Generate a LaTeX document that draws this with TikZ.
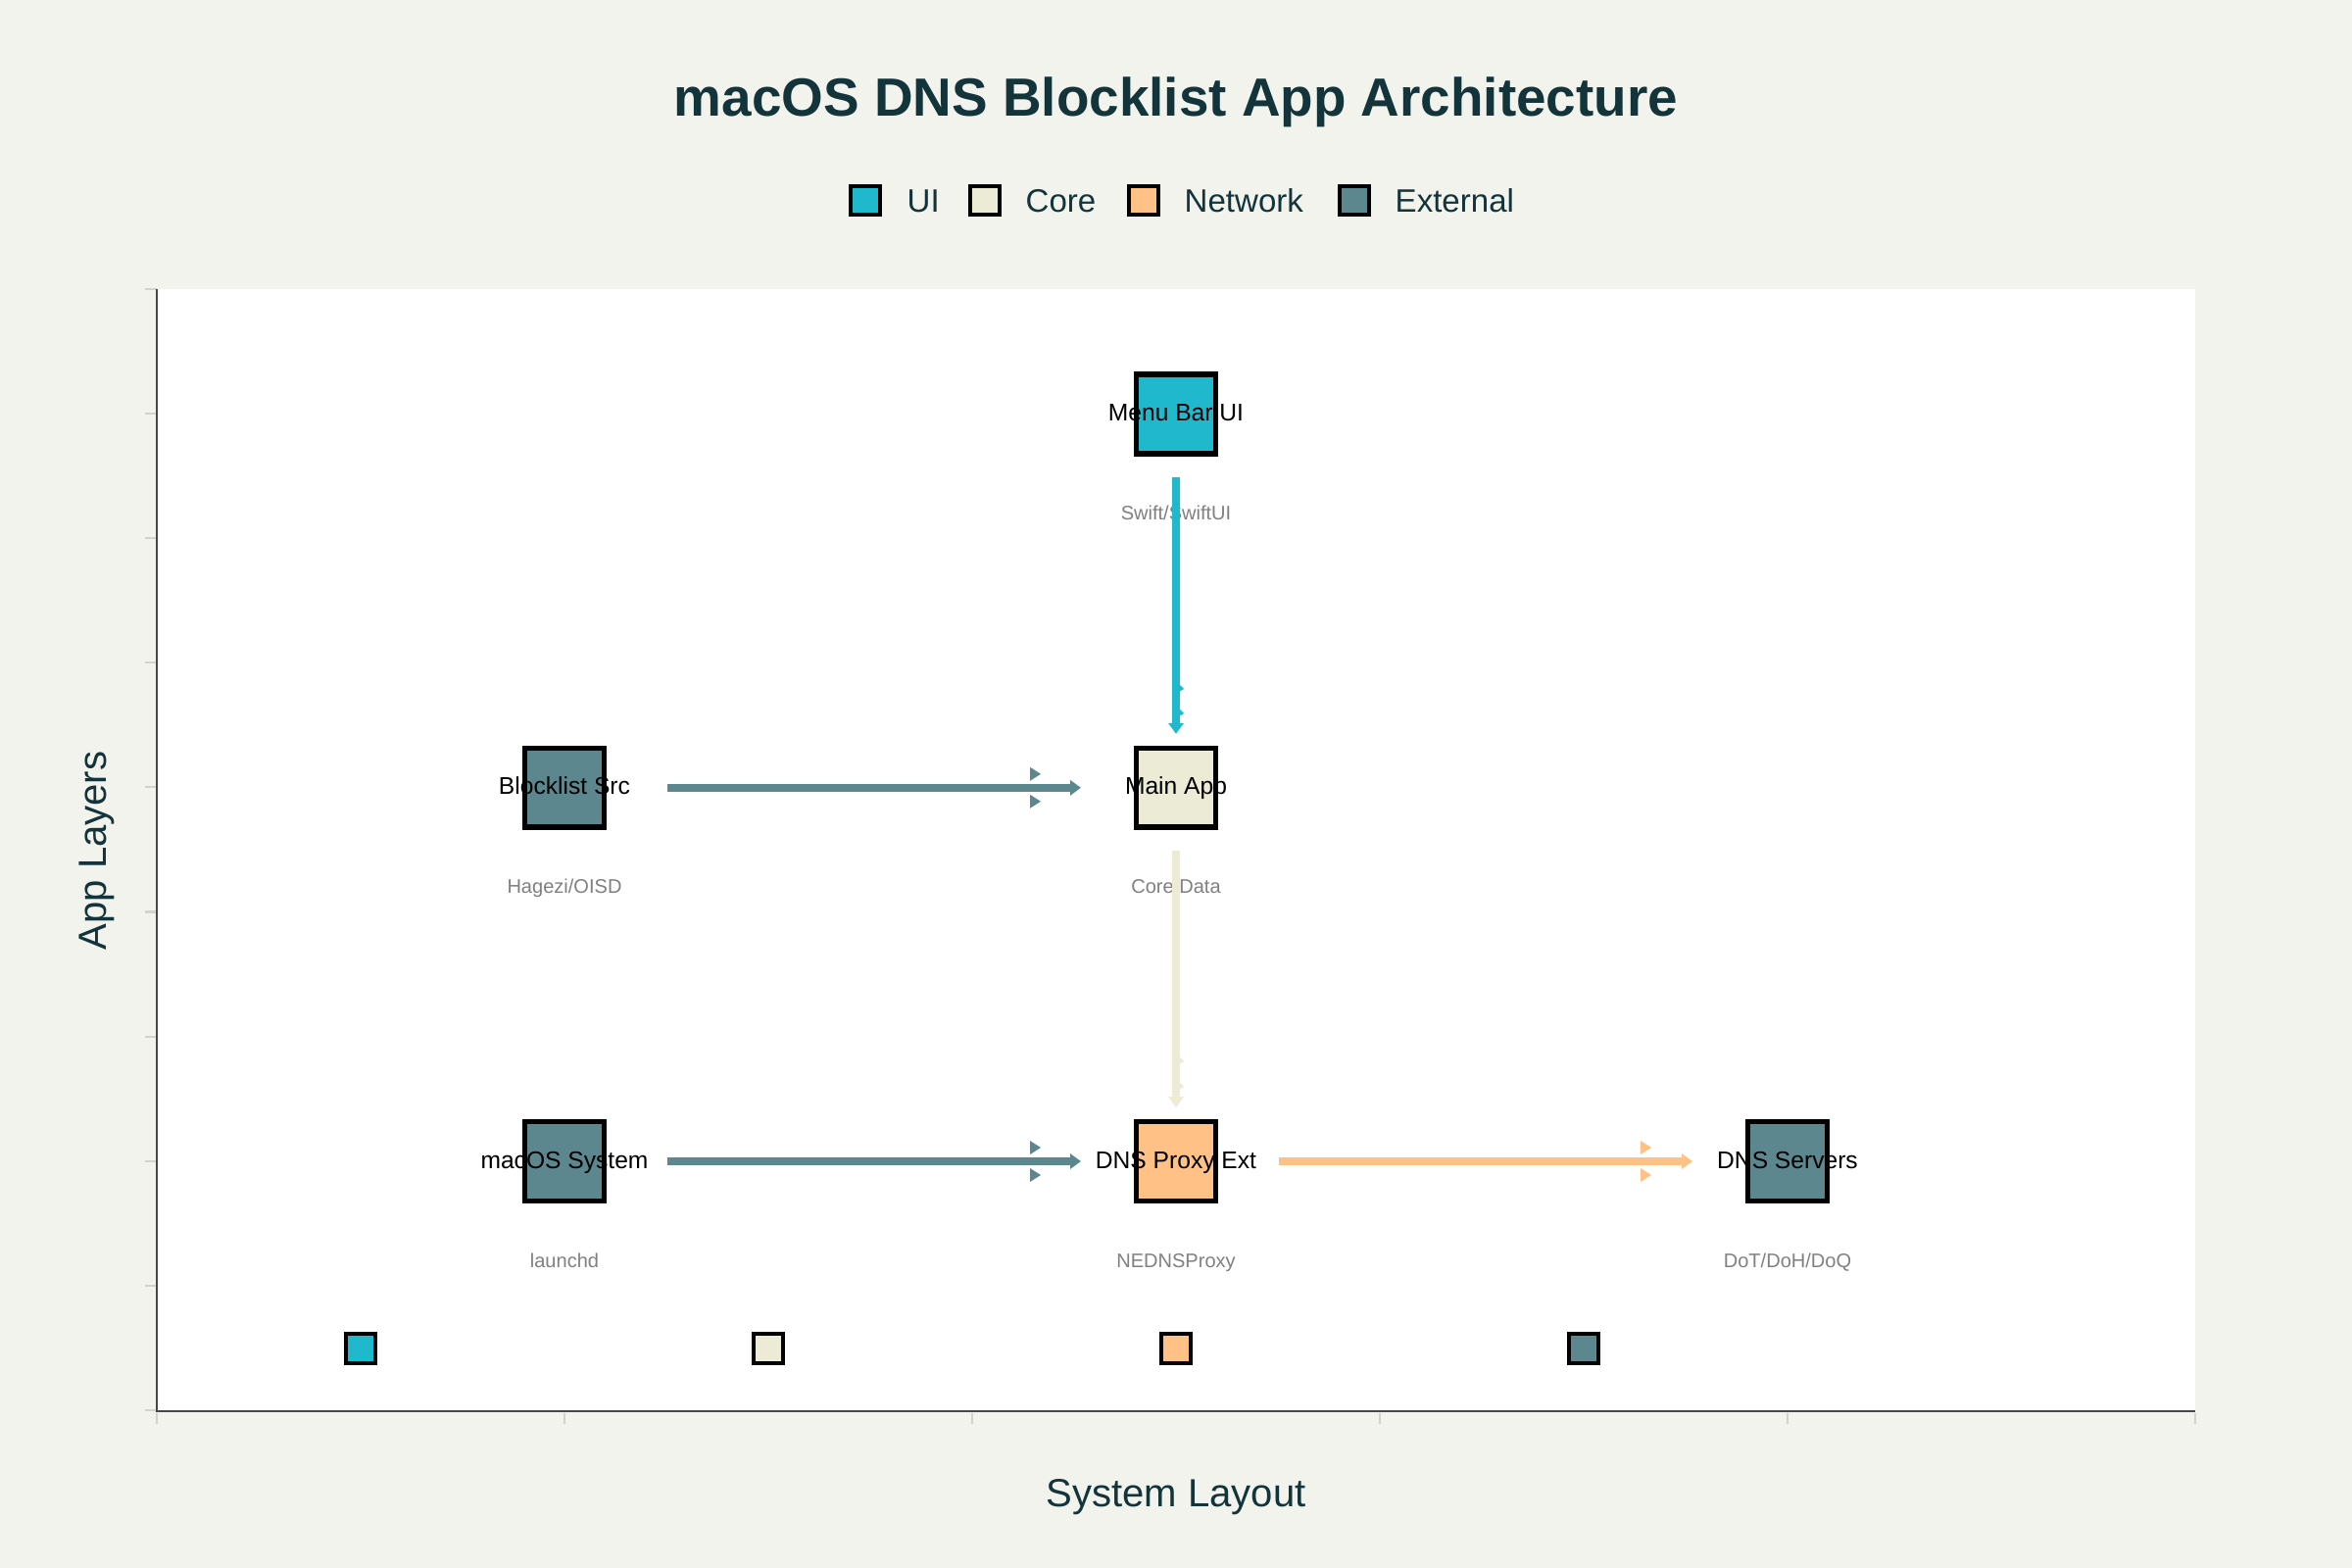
\documentclass[tikz,border=0pt]{standalone}
\usepackage{fontspec}
\setmainfont{Liberation Sans}
\usetikzlibrary{arrows.meta}
\definecolor{ui}{HTML}{1FB8CD}
\definecolor{core}{HTML}{ECEBD5}
\definecolor{net}{HTML}{FFC185}
\definecolor{ext}{HTML}{5D878F}
\definecolor{paper}{HTML}{F3F3EE}
\definecolor{ink}{HTML}{13343B}
\definecolor{subgrey}{HTML}{808080}
\definecolor{tickgrey}{HTML}{D2D2CE}

\begin{document}
\begin{tikzpicture}[x=0.01cm, y=-0.01cm,
	box/.style={rectangle, draw=black, line width=1.56pt, minimum size=0.805cm, inner sep=0pt},
	keybox/.style={rectangle, draw=black, line width=1.1pt, minimum size=0.295cm, inner sep=0pt},
	boxtext/.style={anchor=base, text=black, font=\fontsize{7}{8}\selectfont, inner sep=0pt},
	subtext/.style={anchor=base, text=subgrey, font=\fontsize{5.7}{7}\selectfont, inner sep=0pt},
	keytext/.style={anchor=base west, text=ink, font=\fontsize{9.4}{11}\selectfont, inner sep=0pt},
	flow/.style={line width=2.1pt, -{Triangle[length=3.1pt, width=4.3pt]}},
	hflow/.style={flow, shorten <=0.62cm, shorten >=0.54cm},
	vflow/.style={flow, shorten <=0.215cm, shorten >=0.12cm}]
	\fill[paper] (0,0) rectangle (2400,1600);
	\useasboundingbox (0,0) rectangle (2400,1600);
	\fill[white] (160,295) rectangle (2240,1440);
	\foreach \k in {0,...,9}
		\draw[tickgrey, line width=0.6pt] (148,295+127.1*\k) -- (160,295+127.1*\k);
	\foreach \k in {0,...,5}
		\draw[tickgrey, line width=0.6pt] (160+416*\k,1442) -- (160+416*\k,1453);
	\draw[black!72, line width=0.45pt] (160,295) -- (160,1440) -- (2240,1440);
	
	\node[anchor=base, text=ink, font=\bfseries\fontsize{15.6}{18}\selectfont, inner sep=0pt] (title) at (1200,119) {macOS DNS Blocklist App Architecture};
	\node[anchor=base, text=ink, font=\fontsize{11.4}{13}\selectfont, inner sep=0pt] (xlabel) at (1200,1537) {System Layout};
	\node[anchor=base, rotate=90, text=ink, font=\fontsize{11.4}{13}\selectfont, inner sep=0pt] (ylabel) at (108,868) {App Layers};
	
	\node[keybox, fill=ui] (k1) at (883,204.5) {};
	\node[keytext] (k1t) at (925,216) {UI};
	\node[keybox, fill=core] (k2) at (1005,204.5) {};
	\node[keytext] (k2t) at (1046,216) {Core};
	\node[keybox, fill=net] (k3) at (1167,204.5) {};
	\node[keytext] (k3t) at (1208,216) {Network};
	\node[keybox, fill=ext] (k4) at (1382,204.5) {};
	\node[keytext] (k4t) at (1423,216) {External};
	
	\node[box, fill=ui] (menu) at (1200,422.5) {};
	\node[box, fill=core] (main) at (1200,803.8) {};
	\node[box, fill=ext] (blk) at (576,803.8) {};
	\node[box, fill=ext] (sys) at (576,1185) {};
	\node[box, fill=net] (proxy) at (1200,1185) {};
	\node[box, fill=ext] (dns) at (1824,1185) {};
	
	\node[boxtext] (menu-t) at (1200,429.5) {Menu Bar UI};
	\node[boxtext] (main-t) at (1200,810.8) {Main App};
	\node[boxtext] (blk-t) at (576,810.8) {Blocklist Src};
	\node[boxtext] (sys-t) at (576,1192) {macOS System};
	\node[boxtext] (proxy-t) at (1200,1192) {DNS Proxy Ext};
	\node[boxtext] (dns-t) at (1824,1192) {DNS Servers};
	
	\node[subtext] (menu-s) at (1200,530.5) {Swift/SwiftUI};
	\node[subtext] (main-s) at (1200,911.8) {Core Data};
	\node[subtext] (blk-s) at (576,911.8) {Hagezi/OISD};
	\node[subtext] (sys-s) at (576,1293) {launchd};
	\node[subtext] (proxy-s) at (1200,1293) {NEDNSProxy};
	\node[subtext] (dns-s) at (1824,1293) {DoT/DoH/DoQ};
	
	\node[keybox, fill=ui] (m1) at (368,1376) {};
	\node[keybox, fill=core] (m2) at (784,1376) {};
	\node[keybox, fill=net] (m3) at (1200,1376) {};
	\node[keybox, fill=ext] (m4) at (1616,1376) {};
	
	\path (menu) edge[vflow, ui] (main);
	\path (main) edge[vflow, core] (proxy);
	\path (blk) edge[hflow, ext] (main);
	\path (sys) edge[hflow, ext] (proxy);
	\path (proxy) edge[hflow, net] (dns);
	
	\foreach \x/\y/\c in {1051/803.8/ext, 1051/1185/ext, 1674/1185/net}{
		\fill[\c] (\x,\y-21) -- (\x+11,\y-14) -- (\x,\y-7) -- cycle;
		\fill[\c] (\x,\y+7) -- (\x+11,\y+14) -- (\x,\y+21) -- cycle;
	}
	\foreach \y/\c in {703/ui, 728/ui, 1083/core, 1109/core}
		\fill[\c] (1203,\y-5) -- (1208,\y) -- (1203,\y+3) -- cycle;
\end{tikzpicture}
\end{document}
